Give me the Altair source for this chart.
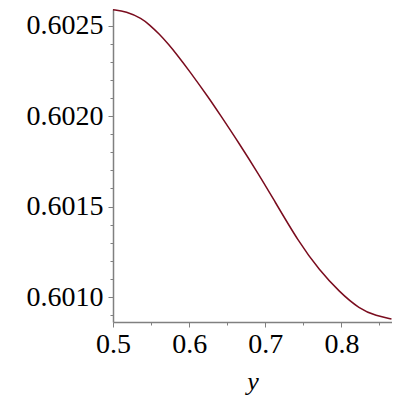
import altair as alt
import pandas as pd

# values
xs = [0.5, 0.5171, 0.5382, 0.5474, 0.5605, 0.5737, 0.5829, 0.6, 0.6263, 0.6395,
      0.6658, 0.6921, 0.7079, 0.7447, 0.7711, 0.7974, 0.8237, 0.8461, 0.8658]
ys = [0.602588, 0.602580, 0.602539, 0.602506, 0.602456, 0.602393, 0.602346,
      0.602252, 0.602098, 0.602015, 0.601849, 0.601673, 0.601562, 0.601298,
      0.601149, 0.601028, 0.600934, 0.600895, 0.600879]

x_ticks = [0.5, 0.55, 0.6, 0.65, 0.7, 0.75, 0.8, 0.85]
y_ticks = [0.6009, 0.6010, 0.6011, 0.6012, 0.6013, 0.6014, 0.6015, 0.6016,
           0.6017, 0.6018, 0.6019, 0.6020, 0.6021, 0.6022, 0.6023, 0.6024, 0.6025]

df = pd.DataFrame({"x": xs, "v": ys})

x_major = "abs(datum.value*10 - round(datum.value*10)) < 0.001"
y_major = "abs(datum.value*2000 - round(datum.value*2000)) < 0.01"
serif = "Liberation Serif"

chart = alt.Chart(df).mark_line(
    color="#7a0c1e", strokeWidth=1.5, interpolate="basis"
).encode(
    x=alt.X("x:Q", scale=alt.Scale(domain=[0.5, 0.8665], nice=False, zero=False),
            axis=alt.Axis(values=x_ticks, title="y",
                          labelExpr=f"{x_major} ? format(datum.value, '.1f') : ''",
                          tickSize={"condition": {"test": x_major, "value": 5}, "value": 3},
                          labelOverlap=False, labelFlush=False,
                          labelFontSize=28, labelColor="black", labelPadding=3,
                          titleFontSize=26, titleFontStyle="italic",
                          titleFontWeight="normal", titleColor="black",
                          titlePadding=10)),
    y=alt.Y("v:Q", scale=alt.Scale(domain=[0.600862, 0.602592], nice=False, zero=False),
            axis=alt.Axis(values=y_ticks, title=None,
                          labelExpr=f"{y_major} ? format(datum.value, '.4f') : ''",
                          tickSize={"condition": {"test": y_major, "value": 5}, "value": 3},
                          labelOverlap=False, labelFlush=False,
                          labelFontSize=28, labelColor="black", labelPadding=5)),
).properties(
    width=279, height=313,
    autosize=alt.AutoSizeParams(type="none"),
    padding={"left": 105, "top": 1, "right": 0, "bottom": 78},
    background="white",
).configure(font=serif).configure_axis(
    labelFont=serif, titleFont=serif, grid=False,
    domainColor="#808080", domainWidth=1.5,
    tickColor="#808080", tickWidth=1,
).configure_view(strokeWidth=0, stroke="transparent")

chart.save("out.html", embed_options={"renderer": "svg", "actions": False})
